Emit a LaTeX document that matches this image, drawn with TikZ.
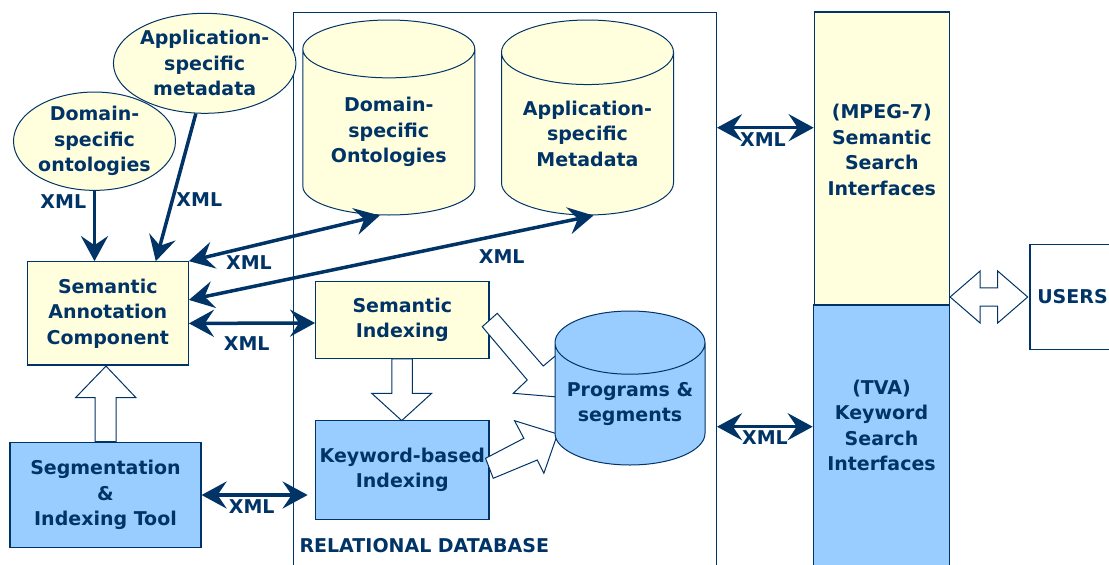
\documentclass[tikz,border=0pt]{standalone}
\usepackage{fontspec}
\setmainfont{DejaVu Sans}
\usetikzlibrary{shapes.geometric,arrows.meta}
\definecolor{navy}{RGB}{0,51,102}
\definecolor{cream}{RGB}{255,255,221}
\definecolor{sky}{RGB}{153,204,255}

\begin{document}
\begin{tikzpicture}[x=1pt,y=-1pt,
    every node/.style={text=navy,font=\bfseries\fontsize{19}{25.5}\selectfont,align=center},
    box/.style={draw=navy,line width=1.2pt,inner sep=0pt},
    blob/.style={ellipse,draw=navy,line width=1pt,fill=cream,inner sep=0pt},
    can/.style={cylinder,shape border rotate=90,aspect=0.5,draw=navy,line width=1pt,inner sep=0pt,anchor=shape center},
    xml/.style={navy,line width=3.5pt,>={Stealth[length=25pt,width=27pt,inset=9pt]}},
    hollow/.style={draw=navy,fill=white,line width=1pt,line join=miter}]
    \useasboundingbox (0,0) rectangle (1109,565);

    % database frame
    \node[box,line width=1pt,minimum width=423pt,minimum height=570pt,anchor=north west] (reldb) at (293,12) {};

    % sources on the left
    \node[blob,minimum width=169pt,minimum height=100pt] (appmeta) at (204.7,63.3) {Application-\\specific\\metadata};
    \node[blob,minimum width=162pt,minimum height=94pt] (domonto) at (94.5,141.2) {Domain-\\specific\\ontologies};
    \node[box,fill=cream,minimum width=161pt,minimum height=103.3pt] (annot) at (107.8,313.4) {Semantic\\Annotation\\Component};
    \node[box,fill=sky,minimum width=191pt,minimum height=105.4pt] (segtool) at (105.5,495) {Segmentation\\\&\\Indexing Tool};
    \draw[hollow,shift={(segtool.north)}] (-10.3,0) -- (-10.3,-44) -- (-30,-44) -- (0.5,-75.6) -- (30.5,-44) -- (10.5,-44) -- (10.5,0) -- cycle;

    % inside the database
    \node[can,fill=cream,minimum width=172pt,minimum height=195pt] (domcan) at (388.8,117.5) {Domain-\\specific\\Ontologies};
    \node[can,fill=cream,minimum width=172pt,minimum height=195pt] (appcan) at (587.5,117.5) {Application-\\specific\\Metadata};
    \node[box,fill=cream,minimum width=173.3pt,minimum height=76.6pt] (semidx) at (402.3,320) {Semantic\\Indexing};
    \node[box,fill=sky,minimum width=173.3pt,minimum height=98.6pt] (kwidx) at (402.3,470) {Keyword-based\\Indexing};
    \draw[hollow,shift={(semidx.south)}] (-10.5,0) -- (-10.5,34.4) -- (-30.6,34.4) -- (-0.6,61.7) -- (29.4,34.4) -- (10,34.4) -- (10,0) -- cycle;
    \draw[hollow,shift={(semidx.east)}] (-7.3,6.7) -- (37.7,60) -- (23.7,73.3) -- (68,77) -- (67.7,34.3) -- (53.7,46) -- (7.7,-6.7) -- cycle;
    \draw[hollow,shift={(kwidx.east)}] (-4,-11.7) -- (34.3,-31.7) -- (25,-49.3) -- (68,-36) -- (54.3,3.3) -- (47.7,-10) -- (3.7,8.3) -- cycle;
    \node[can,fill=sky,minimum width=150pt,minimum height=154pt] (progcan) at (630,388) {Programs \&\\segments};
    \node[anchor=west] (reldbname) at (296,546) {RELATIONAL DATABASE};

    % search interfaces and users
    \node[box,fill=cream,minimum width=135pt,minimum height=293pt] (mpeg) at (881.8,158.5) {};
    \node (mpegtext) at (881.8,150) {(MPEG-7)\\Semantic\\Search\\Interfaces};
    \node[box,fill=sky,minimum width=136.4pt,minimum height=270pt] (tva) at (881.5,440) {};
    \node (tvatext) at (881.5,425.5) {(TVA)\\Keyword\\Search\\Interfaces};
    \node[box,minimum width=85pt,minimum height=104.3pt] (users) at (1072.5,297) {USERS};
    \draw[hollow,shift={(users.west)}] (-79.3,0) -- (-49.3,-26) -- (-49.3,-9.2) -- (-31.7,-9.2) -- (-31.7,-26) -- (-1.7,0) -- (-31.7,26) -- (-31.7,9.2) -- (-49.3,9.2) -- (-49.3,26) -- cycle;

    % XML exchanges
    \draw[xml,->] (domonto.south) -- (domonto.south |- annot.north);
    \draw[xml,->] (appmeta.-100) -- ([xshift=48pt]annot.north);
    \draw[xml,<->] (annot.north east) -- ([xshift=-9pt]domcan.south);
    \draw[xml,<->] ([yshift=13.5pt]annot.east) -- ([xshift=6pt]appcan.south);
    \draw[xml,<->] ([yshift=-10pt]annot.east) -- ([yshift=-3pt]semidx.west);
    \draw[xml,<->,shorten >=7.4pt] (segtool.east) -- (segtool.east -| kwidx.west);
    \coordinate (mpegin) at ([yshift=30.8pt]mpeg.west);
    \coordinate (tvain) at ([yshift=13.3pt]tva.west);
    \draw[xml,<->] (mpegin -| reldb.east) -- (mpegin);
    \draw[xml,<->] (tvain -| reldb.east) -- (tvain);

    \node (xml1) at (63.3,201.7) {XML};
    \node (xml2) at (199.3,200) {XML};
    \node (xml3) at (249,262.7) {XML};
    \node (xml4) at (501.7,256.7) {XML};
    \node (xml5) at (246.7,343.3) {XML};
    \node (xml6) at (251.7,506.7) {XML};
    \node (xml7) at (763,140) {XML};
    \node (xml8) at (765,438) {XML};
\end{tikzpicture}
\end{document}
